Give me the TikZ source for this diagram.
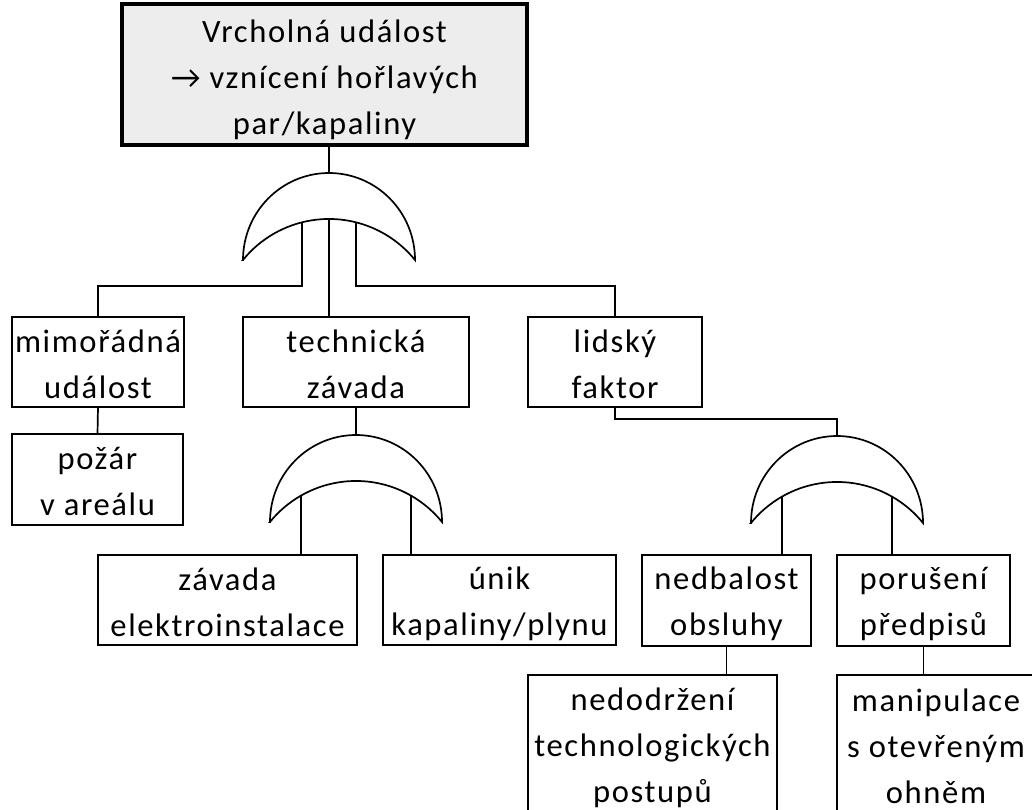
\documentclass[tikz,border=0pt]{standalone}
\usepackage{fontspec}
\setmainfont{Carlito}[LetterSpace=5]
\definecolor{topfill}{HTML}{EDEDED}
% line struts: fixed height/depth so every box centres its lines alike
\newcommand\Ls{\rule[-4pt]{0pt}{34pt}}
\newcommand\Lt{\rule[-1pt]{0pt}{35pt}}

\begin{document}
\begin{tikzpicture}[x=1pt, y=-1pt,
  every node/.style={inner sep=0pt, outer sep=0pt},
  box/.style={draw, line width=2.6pt, align=center, minimum height=90pt,
    font=\fontsize{32.6}{46}\selectfont},
  wire/.style={line width=1.7pt},
  orgate/.pic={
    \draw[line width=1.7pt, fill=white]
      (-86pt,0pt) arc[start angle=180, end angle=0, x radius=86pt, y radius=87pt]
      arc[start angle=39, end angle=141, radius=110.7pt] -- cycle;
    \coordinate (-out) at (0pt,87pt);
    \coordinate (-in)  at (0pt,41pt);
    \coordinate (-l)   at (-27pt,37.7pt);
    \coordinate (-r)   at (27pt,37.7pt);
    \coordinate (-ll)  at (-55pt,26.4pt);
    \coordinate (-rr)  at (55pt,26.4pt);
  }]
\useasboundingbox (0,0) rectangle (1032,809);

% top event
\node[box, minimum width=405pt, minimum height=141pt, line width=3.6pt, fill=topfill]
  (top) at (324.5,74.5) {\Lt Vrcholná událost\\\Lt → vznícení hořlavých\\\Lt par/kapaliny};

% first level
\node[box, minimum width=172pt] (mimo) at (98,362) {\Ls mimořádná\\\Ls událost};
\node[box, minimum width=226pt] (tech) at (356,362) {\Ls technická\\\Ls závada};
\node[box, minimum width=174pt] (lid)  at (615,362) {\Ls lidský\\\Ls faktor};
\node[box, minimum width=171pt, minimum height=91pt] (pozar) at (97.5,479.5) {\Ls požár\\\Ls v areálu};

% second level
\node[box, minimum width=259pt] (zav)  at (227.5,600) {\Ls závada\\\Ls elektroinstalace};
\node[box, minimum width=233pt] (unik) at (499.5,600) {\Ls únik\\\Ls kapaliny/plynu};
\node[box, minimum width=169pt, minimum height=91pt] (ned) at (726.5,600.5) {\Ls nedbalost\\\Ls obsluhy};
\node[box, minimum width=173pt, minimum height=91pt] (por) at (923.5,600.5) {\Ls porušení\\\Ls předpisů};

% third level
\node[box, minimum width=249pt, minimum height=138pt] (nedo) at (652.5,744) {\Ls nedodržení\\\Ls technologických\\\Ls postupů};
\node[box, minimum width=198pt, minimum height=138pt] (mani) at (936,744) {\Ls manipulace\\\Ls s otevřeným\\\Ls ohněm};

% OR gates
\pic (g1) at (329,260) {orgate};
\pic (g2) at (356,522) {orgate};
\pic (g3) at (837,523) {orgate};

% connectors
\draw[wire] (top.south -| g1-out) -- (g1-out);
\draw[wire] (g1-l) |- ([yshift=31pt]mimo.north) -- (mimo.north);
\draw[wire] (g1-in) -- (g1-in |- tech.north);
\draw[wire] (g1-r) |- ([yshift=31pt]lid.north) -- (lid.north);
\draw[wire] (mimo.south) -- (pozar.north);

\draw[wire] (tech.south -| g2-out) -- (g2-out);
\draw[wire] (g2-ll) -- (g2-ll |- zav.north);
\draw[wire] (g2-rr) -- (g2-rr |- unik.north);

\draw[wire] (lid.south) -- ([yshift=-12pt]lid.south) -| (g3-out);
\draw[wire] (g3-ll) -- (g3-ll |- ned.north);
\draw[wire] (g3-rr) -- (g3-rr |- por.north);
\draw[wire] (ned.south) -- (ned.south |- nedo.north);
\draw[wire] (por.south) -- (por.south |- mani.north);
\end{tikzpicture}
\end{document}
